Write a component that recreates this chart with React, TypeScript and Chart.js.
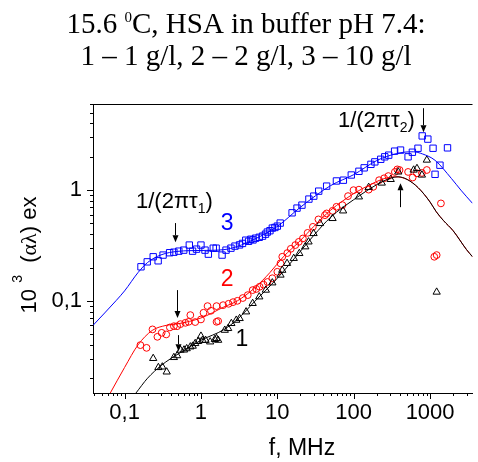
import { useEffect, useRef } from 'react';
import { Chart, registerables } from 'chart.js';

Chart.register(...registerables);

const W = 478;
const H = 462;

// Axis ranges (log scales)
const X_MIN = 0.0386;
const X_MAX = 3590;
const Y_MIN = 0.0147;
const Y_MAX = 6;

const xTicks = [0.1, 1, 10, 100, 1000];
const xTickLabels = ['0,1', '1', '10', '100', '1000'];
const yTicks = [0.1, 1];
const yTickLabels = ['0,1', '1'];

// Series 3 (10 g/l) – blue squares
const blueF = [0.164, 0.198, 0.237, 0.275, 0.319, 0.389, 0.442, 0.513, 0.595, 0.704, 0.777, 0.875, 1.0, 1.13, 1.25, 1.45, 1.58, 1.89, 2.13, 2.47, 2.79, 3.2, 3.5, 3.86, 4.2, 4.5, 4.8, 5.2, 5.8, 6.4, 7.0, 7.4, 8.0, 8.6, 9.3, 10, 10.9, 15.6, 18.1, 21, 25.9, 30, 34.8, 44.2, 59.4, 73.2, 92.9, 117, 137, 168, 189, 226, 255, 287, 343, 410, 515, 586, 694, 788, 934, 1093, 1161, 1346, 1690];
const blueY = [0.203, 0.225, 0.25, 0.23, 0.259, 0.272, 0.275, 0.281, 0.287, 0.319, 0.281, 0.293, 0.319, 0.287, 0.264, 0.299, 0.299, 0.259, 0.287, 0.299, 0.312, 0.32, 0.33, 0.353, 0.345, 0.36, 0.355, 0.368, 0.375, 0.384, 0.40, 0.418, 0.43, 0.454, 0.46, 0.473, 0.504, 0.624, 0.688, 0.732, 0.83, 0.883, 0.979, 1.087, 1.21, 1.23, 1.37, 1.48, 1.59, 1.71, 1.80, 1.90, 2.0, 2.07, 2.25, 2.30, 2.0, 2.20, 2.39, 3.09, 2.89, 2.39, 1.39, 1.68, 2.41];

// Series 2 (2 g/l) – red circles
const redF = [0.161, 0.194, 0.232, 0.269, 0.306, 0.351, 0.392, 0.442, 0.488, 0.539, 0.626, 0.69, 0.726, 0.841, 1.0, 1.08, 1.22, 1.35, 1.6, 1.6, 1.68, 1.95, 2.3, 2.63, 3.0, 3.53, 4.1, 4.75, 5.3, 5.86, 6.6, 7.43, 8.6, 10, 11.0, 11.6, 13.5, 15.0, 17.2, 19.1, 21.6, 24.9, 29.2, 34.5, 42, 44.2, 52.8, 59.4, 71.1, 84.2, 99.4, 117, 157, 180, 215, 250, 284, 346, 372, 398, 515, 591, 673, 781, 906, 1135, 1219, 1386];
const redY = [0.0398, 0.0376, 0.0552, 0.0473, 0.0514, 0.0497, 0.0575, 0.059, 0.059, 0.0616, 0.0633, 0.0646, 0.0743, 0.0643, 0.0679, 0.078, 0.0896, 0.0813, 0.0896, 0.0646, 0.0656, 0.0914, 0.094, 0.0973, 0.1, 0.106, 0.1126, 0.125, 0.128, 0.134, 0.14, 0.148, 0.16, 0.183, 0.218, 0.25, 0.27, 0.295, 0.319, 0.341, 0.366, 0.411, 0.466, 0.544, 0.594, 0.616, 0.65, 0.707, 0.732, 0.883, 1.0, 1.01, 1.01, 1.07, 1.23, 1.28, 1.34, 1.46, 1.54, 1.52, 1.46, 1.30, 1.42, 1.43, 1.52, 0.25, 0.259, 0.759];

// Series 1 (1 g/l) – black triangles
const blackF = [0.237, 0.277, 0.312, 0.356, 0.442, 0.488, 0.539, 0.6, 0.65, 0.726, 0.78, 0.841, 0.92, 1.0, 1.05, 1.15, 1.32, 1.52, 1.6, 1.68, 2.05, 2.27, 2.5, 2.9, 3.21, 3.9, 4.75, 5.8, 7.07, 8.6, 11.0, 11.6, 13.4, 16.4, 19.4, 23.2, 25.6, 29.8, 36.2, 52.8, 72.6, 117, 157, 233, 305, 383, 609, 673, 781, 906, 1219];
const blackY = [0.0302, 0.025, 0.0253, 0.0228, 0.0308, 0.032, 0.0359, 0.036, 0.037, 0.0384, 0.039, 0.0412, 0.043, 0.048, 0.0441, 0.044, 0.0426, 0.0448, 0.0457, 0.0441, 0.0543, 0.0563, 0.0625, 0.0669, 0.0693, 0.0796, 0.0948, 0.1087, 0.125, 0.1455, 0.171, 0.189, 0.218, 0.242, 0.268, 0.308, 0.341, 0.406, 0.50, 0.555, 0.65, 0.87, 1.06, 1.16, 1.25, 1.46, 1.52, 1.57, 1.37, 1.87, 0.12];

// Fitted curves
const blueFitF = [0.0386, 0.078, 0.1, 0.15, 0.2, 0.3, 0.5, 1, 2, 3, 5, 10, 20, 50, 100, 200, 300, 450, 600, 800, 1160, 1900, 2530, 3590];
const blueFitY = [0.060, 0.101, 0.123, 0.18, 0.222, 0.26, 0.28, 0.285, 0.29, 0.31, 0.36, 0.47, 0.70, 1.1, 1.38, 1.85, 2.06, 2.2, 2.22, 2.12, 1.86, 1.275, 1.0, 0.76];
const redFitF = [0.065, 0.1, 0.15, 0.23, 0.35, 0.5, 1, 2, 3, 5, 8, 12, 20, 30, 50, 100, 160, 250, 350, 500, 700, 1000, 1200, 1500, 2000, 3000, 3590];
const redFitY = [0.0147, 0.025, 0.04, 0.054, 0.06, 0.062, 0.07, 0.088, 0.1, 0.13, 0.18, 0.25, 0.35, 0.47, 0.66, 0.93, 1.11, 1.27, 1.32, 1.25, 1.05, 0.78, 0.64, 0.53, 0.43, 0.29, 0.25];
const blackFitF = [0.141, 0.2, 0.3, 0.4, 0.5, 1, 2, 3, 5, 10, 20, 30, 50, 100, 200, 300, 380, 500, 700, 1000, 1200, 1500, 2000, 3000, 3590];
const blackFitY = [0.0147, 0.02, 0.026, 0.030, 0.033, 0.044, 0.055, 0.068, 0.098, 0.16, 0.28, 0.39, 0.57, 0.82, 1.12, 1.28, 1.32, 1.25, 1.05, 0.78, 0.64, 0.53, 0.43, 0.29, 0.25];

// Annotations in data coordinates
const tau1Label = { f: 0.45, y: 0.688 };
const tau2Label = { f: 198, y: 3.71 };
const arrows = [
  { f: 0.455, from: 0.504, to: 0.339 },
  { f: 813, from: 5.5, to: 3.34 },
  { f: 398, from: 0.702, to: 1.157 },
  { f: 0.483, from: 0.125, to: 0.0698 },
  { f: 0.498, from: 0.049, to: 0.0351 },
];
const seriesLabels = [
  { text: '3', f: 2.2, y: 0.5, color: '#0000ff' },
  { text: '2', f: 2.2, y: 0.154, color: '#ff0000' },
  { text: '1', f: 3.43, y: 0.045, color: '#000000' },
];

const SANS = '"Liberation Sans", Arial, sans-serif';
const SERIF = '"Liberation Serif", "Times New Roman", serif';

type Seg = { t: string; font: string; dy: number };

function drawSegs(ctx: CanvasRenderingContext2D, segs: Seg[], cx: number, baseY: number) {
  let total = 0;
  const widths = segs.map((s) => {
    ctx.font = s.font;
    const w = ctx.measureText(s.t).width;
    total += w;
    return w;
  });
  let x = cx - total / 2;
  segs.forEach((s, i) => {
    ctx.font = s.font;
    ctx.fillText(s.t, x, baseY + s.dy);
    x += widths[i];
  });
}

function drawArrow(ctx: CanvasRenderingContext2D, x: number, y0: number, y1: number) {
  const dir = Math.sign(y1 - y0);
  const head = 7;
  const hw = 3;
  const px = Math.round(x) + 0.5;
  ctx.beginPath();
  ctx.moveTo(px, y0);
  ctx.lineTo(px, y1 - dir * head);
  ctx.stroke();
  ctx.beginPath();
  ctx.moveTo(px, y1);
  ctx.lineTo(px - hw, y1 - dir * head);
  ctx.lineTo(px + hw, y1 - dir * head);
  ctx.closePath();
  ctx.fill();
}

const decorPlugin = {
  id: 'decor',
  afterDraw(chart: any) {
    const ctx: CanvasRenderingContext2D = chart.ctx;
    const xs = chart.scales.x;
    const ys = chart.scales.y;
    const ca = chart.chartArea;
    ctx.save();
    ctx.strokeStyle = '#000';
    ctx.fillStyle = '#000';
    ctx.lineWidth = 1;

    // tick marks (major + minor), drawn outward
    for (let e = -2; e <= 3; e++) {
      for (let m = 1; m <= 9; m++) {
        const v = m * Math.pow(10, e);
        const len = m === 1 ? 6 : 3;
        if (v >= xs.min && v <= xs.max) {
          const px = Math.round(xs.getPixelForValue(v)) + 0.5;
          ctx.beginPath();
          ctx.moveTo(px, ca.bottom);
          ctx.lineTo(px, ca.bottom + len);
          ctx.stroke();
        }
        if (v >= ys.min && v <= ys.max) {
          const py = Math.round(ys.getPixelForValue(v)) + 0.5;
          ctx.beginPath();
          ctx.moveTo(ca.left, py);
          ctx.lineTo(ca.left - len, py);
          ctx.stroke();
        }
      }
    }
    // top frame line
    ctx.beginPath();
    ctx.moveTo(ca.left, Math.round(ca.top) + 0.5);
    ctx.lineTo(ca.right, Math.round(ca.top) + 0.5);
    ctx.stroke();

    // title
    ctx.textBaseline = 'alphabetic';
    ctx.textAlign = 'left';
    drawSegs(ctx, [
      { t: '15.6 ', font: `29px ${SERIF}`, dy: 0 },
      { t: '0', font: `15px ${SERIF}`, dy: -11 },
      { t: 'C, HSA in buffer pH 7.4:', font: `29px ${SERIF}`, dy: 0 },
    ], 246, 33);
    drawSegs(ctx, [
      { t: '1 – 1 g/l, 2 – 2 g/l, 3 – 10 g/l', font: `29px ${SERIF}`, dy: 0 },
    ], 246, 65);

    // x axis title
    drawSegs(ctx, [{ t: 'f, MHz', font: `23px ${SANS}`, dy: 0 }], 302, 455);

    // y axis title (rotated)
    ctx.save();
    ctx.translate(36, 255);
    ctx.rotate(-Math.PI / 2);
    drawSegs(ctx, [
      { t: '10 ', font: `22px ${SANS}`, dy: 0 },
      { t: '3', font: `14px ${SANS}`, dy: -14 },
      { t: '  (', font: `22px ${SANS}`, dy: 0 },
      { t: 'αλ', font: `22px ${SERIF}`, dy: 0 },
      { t: ') ex', font: `22px ${SANS}`, dy: 0 },
    ], 0, 0);
    ctx.restore();

    // tau labels
    const t1x = xs.getPixelForValue(tau1Label.f);
    const t1y = ys.getPixelForValue(tau1Label.y);
    drawSegs(ctx, [
      { t: '1/(2πτ', font: `22px ${SANS}`, dy: 0 },
      { t: '1', font: `14px ${SANS}`, dy: 5 },
      { t: ')', font: `22px ${SANS}`, dy: 0 },
    ], t1x, t1y);
    const t2x = xs.getPixelForValue(tau2Label.f);
    const t2y = ys.getPixelForValue(tau2Label.y);
    drawSegs(ctx, [
      { t: '1/(2πτ', font: `22px ${SANS}`, dy: 0 },
      { t: '2', font: `14px ${SANS}`, dy: 5 },
      { t: ')', font: `22px ${SANS}`, dy: 0 },
    ], t2x, t2y);

    // arrows
    arrows.forEach((a) => {
      drawArrow(ctx, xs.getPixelForValue(a.f), ys.getPixelForValue(a.from), ys.getPixelForValue(a.to));
    });

    // series number labels
    ctx.textBaseline = 'middle';
    ctx.textAlign = 'center';
    ctx.font = `23px ${SANS}`;
    seriesLabels.forEach((l) => {
      ctx.fillStyle = l.color;
      ctx.fillText(l.text, xs.getPixelForValue(l.f), ys.getPixelForValue(l.y));
    });
    ctx.restore();
  },
};

const pts = (xs: number[], ys: number[]) => xs.map((x, i) => ({ x, y: ys[i] }));

export default function App() {
  const ref = useRef<HTMLCanvasElement>(null);
  useEffect(() => {
    const canvas = ref.current!;
    const lineDs = (data: any, color: string) => ({
      data,
      showLine: true,
      borderColor: color,
      borderWidth: 1,
      pointRadius: 0,
      tension: 0.4,
      cubicInterpolationMode: 'monotone',
    });
    const ptDs = (data: any, color: string, style: string, r: number) => ({
      data,
      showLine: false,
      pointStyle: style,
      pointRadius: r,
      pointBorderColor: color,
      pointBackgroundColor: 'rgba(0,0,0,0)',
      pointBorderWidth: 1,
    });
    const chart = new Chart(canvas, {
      type: 'scatter',
      data: {
        datasets: [
          lineDs(pts(blackFitF, blackFitY), '#000000'),
          lineDs(pts(redFitF, redFitY), '#ff0000'),
          lineDs(pts(blueFitF, blueFitY), '#0000ff'),
          ptDs(pts(blackF, blackY), '#000000', 'triangle', 4.2),
          ptDs(pts(redF, redY), '#ff0000', 'circle', 3.4),
          ptDs(pts(blueF, blueY), '#0000ff', 'rect', 4.5),
        ] as any,
      },
      options: {
        animation: false,
        responsive: false,
        devicePixelRatio: 1,
        layout: { padding: { top: 104, left: 0, right: 0, bottom: 0 } },
        plugins: {
          legend: { display: false },
          tooltip: { enabled: false },
          title: { display: false },
        },
        scales: {
          x: {
            type: 'logarithmic',
            min: X_MIN,
            max: X_MAX,
            position: 'bottom',
            afterBuildTicks: (s: any) => {
              s.ticks = xTicks.map((v) => ({ value: v }));
            },
            afterFit: (s: any) => {
              s.height = 69;
            },
            grid: { display: false, drawTicks: false },
            border: { display: true, color: '#000', width: 1 },
            ticks: {
              autoSkip: false,
              maxRotation: 0,
              padding: 7,
              color: '#000',
              font: { family: SANS, size: 22 },
              callback: (v: any) => {
                const i = xTicks.indexOf(Number(v));
                return i >= 0 ? xTickLabels[i] : '';
              },
            },
          },
          y: {
            type: 'logarithmic',
            min: Y_MIN,
            max: Y_MAX,
            position: 'left',
            afterBuildTicks: (s: any) => {
              s.ticks = yTicks.map((v) => ({ value: v }));
            },
            afterFit: (s: any) => {
              s.width = 93;
            },
            grid: { display: false, drawTicks: false },
            border: { display: true, color: '#000', width: 1 },
            ticks: {
              autoSkip: false,
              padding: 11,
              color: '#000',
              font: { family: SANS, size: 22 },
              callback: (v: any) => {
                const i = yTicks.indexOf(Number(v));
                return i >= 0 ? yTickLabels[i] : '';
              },
            },
          },
        },
      } as any,
      plugins: [decorPlugin],
    });
    return () => chart.destroy();
  }, []);
  return (
    <div style={{ position: 'fixed', left: 0, top: 0, width: W, height: H, background: '#fff' }}>
      <canvas ref={ref} width={W} height={H} style={{ display: 'block', width: W, height: H }} />
    </div>
  );
}
